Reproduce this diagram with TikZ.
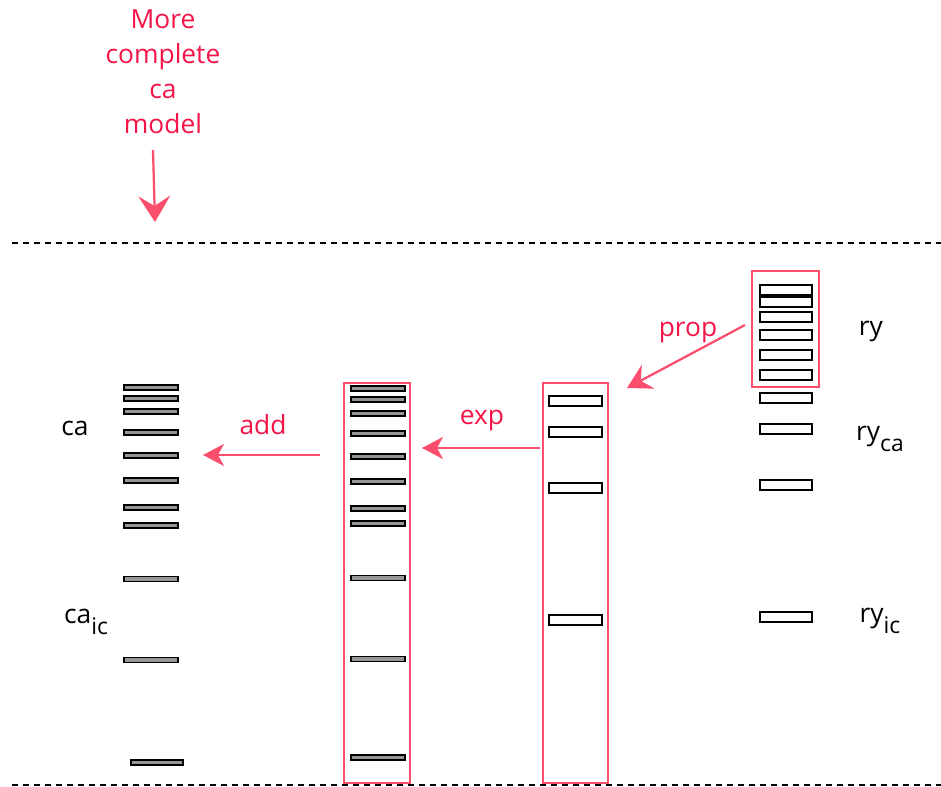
\documentclass[tikz,border=0pt]{standalone}
\usepackage{fontspec}
\setmainfont{Open Sans}
\usetikzlibrary{arrows.meta}
\definecolor{markred}{RGB}{244,20,72}
\definecolor{boxred}{RGB}{250,78,108}
\definecolor{barfill}{RGB}{150,150,150}
\tikzset{
  lbl/.style={font=\fontsize{15}{20}\selectfont, inner sep=0pt},
  redlbl/.style={lbl, text=markred},
  thinbar/.style={draw=black, line width=0.04cm, fill=barfill},
  ladderbox/.style={draw=black, line width=0.05cm, fill=white},
  frame/.style={draw=boxred, line width=0.045cm},
  guide/.style={draw=black, line width=0.03cm, dash pattern=on 0.12cm off 0.1cm},
  steparrow/.style={draw=boxred, line width=0.045cm,
    -{Stealth[length=0.42cm, width=0.44cm, inset=0.12cm]}},
  bigarrow/.style={draw=boxred, line width=0.045cm,
    -{Stealth[length=0.52cm, width=0.64cm, inset=0.2cm]}}
}
\newcommand{\subtxt}[2]{#1\raisebox{-0.75ex}{\fontsize{13}{13}\selectfont #2}}
\begin{document}
\begin{tikzpicture}[x=0.02cm, y=-0.02cm]
  \useasboundingbox (0,0) rectangle (941,787);
  {
  % Drawing dashed guide lines
  \draw [guide] (12,243) -- (941,243);%
  \draw [guide] (12,785) -- (941,785);%

  % Marking the model note
  \node [redlbl, align=center] (note) at (163,72) {More\\complete\\ca\\model};%
  \coordinate (notefrom) at (153,150);%
  \coordinate (noteend) at (155,222);%
  \draw [bigarrow] (notefrom) -- (noteend);%

  % Drawing ry ladder (right)
  \draw [frame] (752,271) rectangle (819,387);%
  \foreach \y in {290,302,317,335,355,375,398,429,485,617}
    \draw [ladderbox] (760,\y-5) rectangle (812,\y+5);%
  \node [lbl] (ry) at (871,331) {ry};%
  \node [lbl] (ryca) at (880,439) {\subtxt{ry}{ca}};%
  \node [lbl] (ryic) at (880,621) {\subtxt{ry}{ic}};%

  % Drawing exp ladder
  \draw [frame] (543,383) rectangle (608,783);%
  \foreach \y in {401,432,488,620}
    \draw [ladderbox] (549,\y-5) rectangle (602,\y+5);%

  % Drawing added ladder
  \draw [frame] (344,383) rectangle (410,783);%
  \foreach \y in {389,400,414,434,457,482,509,524,578,659,757}
    \draw [thinbar] (351,\y-2.5) rectangle (405,\y+2.5);%

  % Drawing ca ladder (left)
  \foreach \y in {388,399,412,433,456,481,508,526,579,660}
    \draw [thinbar] (124,\y-2.5) rectangle (178,\y+2.5);%
  \draw [thinbar] (131,759.5) rectangle (183,764.5);%
  \node [lbl] (ca) at (75,428) {ca};%
  \node [lbl] (caic) at (86,622) {\subtxt{ca}{ic}};%

  % Drawing step arrows
  \coordinate (propfrom) at (745,325);%
  \coordinate (propto) at (627,388);%
  \coordinate (expfrom) at (540,448);%
  \coordinate (expto) at (422,448);%
  \coordinate (addfrom) at (320,455);%
  \coordinate (addto) at (203,455);%
  \draw [bigarrow, -{Stealth[length=0.48cm, width=0.54cm, inset=0.17cm]}] (propfrom) -- (propto);%
  \draw [steparrow] (expfrom) -- (expto);%
  \draw [steparrow] (addfrom) -- (addto);%

  % Marking step labels
  \node [redlbl] (prop) at (688,332) {prop};%
  \node [redlbl] (exp) at (482,420) {exp};%
  \node [redlbl] (add) at (263,425) {add};%
  }
\end{tikzpicture}
\end{document}
